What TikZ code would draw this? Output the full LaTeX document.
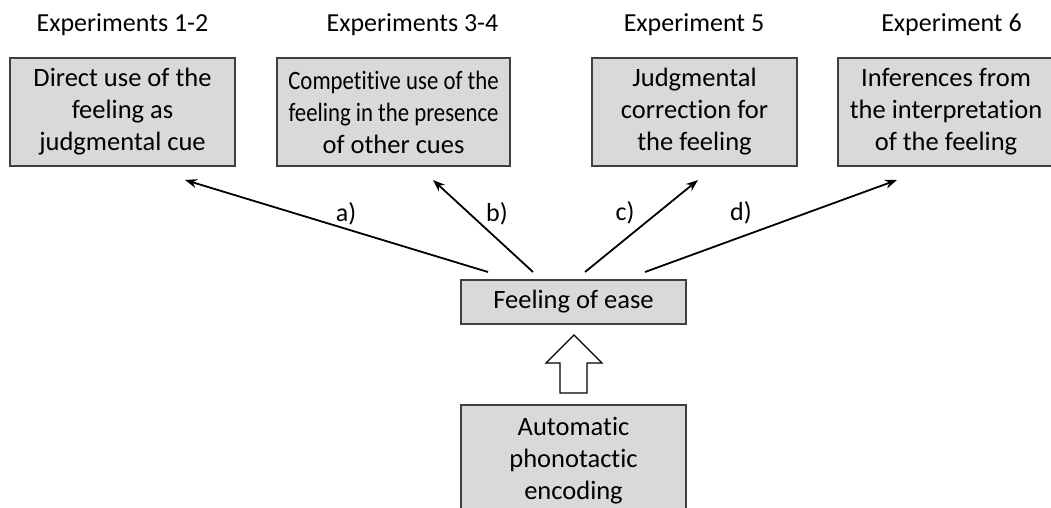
\documentclass[tikz,border=0pt]{standalone}
\usepackage{fontspec}
\setmainfont{Carlito}[Ligatures=NoCommon]
\newfontfamily\narrowfont{Carlito}[Ligatures=NoCommon,FakeStretch=0.86]
\usetikzlibrary{arrows.meta}
\begin{document}
\begin{tikzpicture}[x=1pt,y=-1pt,
  box/.style={draw=black!75,line width=1.3pt,fill=black!15,align=center,inner sep=0pt,
    font=\fontsize{26.5}{32}\selectfont},
  title/.style={font=\fontsize{26}{30}\selectfont,inner sep=0pt},
  lbl/.style={font=\fontsize{26}{30}\selectfont,inner sep=0pt},
  link/.style={line width=1.8pt,-{Stealth[length=12pt,width=9pt]}}]
\useasboundingbox (0,0) rectangle (1051,508);
\clip (0,0) rectangle (1051,508);
% titles
\node[title] (t1) at (122.5,25) {Experiments 1-2};
\node[title] (t2) at (412.5,25) {Experiments 3-4};
\node[title] (t3) at (694,25) {Experiment 5};
\node[title] (t4) at (951.5,25) {Experiment 6};
% top boxes
\node[box,minimum width=225pt,minimum height=108pt] (b1) at (122.5,112) {Direct use of the\\feeling as\\judgmental cue};
\node[box,minimum width=233pt,minimum height=108pt] (b2) at (393.5,112) {{\narrowfont Competitive use of the}\\{\narrowfont feeling in the presence}\\of other cues};
\node[box,minimum width=205pt,minimum height=108pt] (b3) at (694.5,112) {Judgmental\\correction for\\the feeling};
\node[box,minimum width=216pt,minimum height=108pt] (b4) at (946,112) {Inferences from\\the interpretation\\of the feeling};
% middle
\node[box,minimum width=225pt,minimum height=44pt] (fe) at (573.5,302) {Feeling of ease};
% bottom
\node[box,minimum width=225pt,minimum height=130pt] (ae) at (573.5,470) {};
\node[font=\fontsize{26.5}{32}\selectfont,align=center,anchor=north,inner sep=0pt] (aet) at (573.5,417) {Automatic\\phonotactic\\encoding};
% hollow arrow
\draw[line width=1.3pt,fill=white,line join=miter] (560,393) -- (560,363) -- (546,363) -- (574,335) -- (602,363) -- (587,363) -- (587,393) -- cycle;
% connectors
\coordinate (sa) at (488,272);
\coordinate (sb) at (533,272);
\coordinate (sc) at (585,272);
\coordinate (sd) at (645,272);
\coordinate (ea) at (185,180);
\coordinate (eb) at (433,180);
\coordinate (ec) at (698,180);
\coordinate (ed) at (897,180);
\draw[link] (sa) -- (ea);
\draw[link] (sb) -- (eb);
\draw[link] (sc) -- (ec);
\draw[link] (sd) -- (ed);
\node[lbl] (la) at (346,214) {a)};
\node[lbl] (lb) at (497,214) {b)};
\node[lbl] (lc) at (625,213) {c)};
\node[lbl] (ld) at (741,213) {d)};
\end{tikzpicture}
\end{document}
